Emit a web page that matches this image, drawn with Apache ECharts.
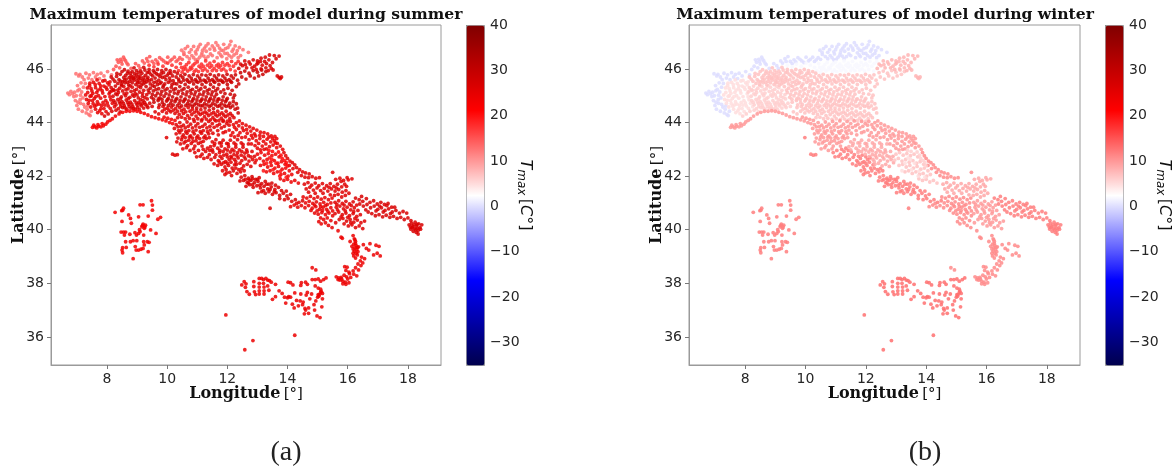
<!DOCTYPE html>
<html>
<head>
<meta charset="utf-8">
<title>Maximum temperatures of model</title>
<script src="https://cdn.jsdelivr.net/npm/echarts@6/dist/echarts.min.js"></script>
<style>
html, body { margin: 0; padding: 0; background: #fff; }
#chart { width: 1176px; height: 468px; }
</style>
</head>
<body>
<div id="chart"></div>
<script>
// tick labels
const lonTicks = [8, 10, 12, 14, 16, 18];
const latTicks = [36, 38, 40, 42, 44, 46];
const colorbarTicks = [-30, -20, -10, 0, 10, 20, 30, 40];
const seismic = ['#00004d', '#0000ff', '#ffffff', '#ff0000', '#800000'];

// stations, flat lon,lat pairs per climate zone
const westEdge = [6.70,45.10,6.75,45.04,6.80,45.16,6.86,45.07,6.92,45.13,6.98,45.00,7.03,45.19,6.90,44.97,7.08,45.24,7.00,44.64,7.05,44.50,7.12,44.72,7.18,44.42,7.26,44.58,7.11,44.86,7.31,44.36,7.40,44.30,7.48,44.42,7.20,44.92,7.34,44.50,6.97,45.82,7.10,45.80,7.18,45.70,7.30,45.84,7.42,45.78,7.55,45.86,7.68,45.80,7.80,45.84,7.24,45.60,7.38,45.66,7.50,45.60,7.62,45.70,7.75,45.64,7.90,45.74,8.02,45.90,8.15,45.78,7.06,45.74,7.14,45.48,7.02,45.38,7.22,45.32,7.28,45.46,7.16,45.14,7.12,45.02,6.95,44.82,7.04,44.76,7.22,44.68,7.36,44.62,7.44,44.26];
const alpsWest = [8.30,46.10,8.38,46.25,8.45,46.36,8.55,46.44,8.62,46.30,8.50,46.18,8.70,46.16,8.80,46.02,8.95,46.20,9.05,46.12,9.18,46.30,9.32,46.38,9.42,46.46,9.50,46.28,9.62,46.34,9.75,46.42,9.88,46.30,10.02,46.44,10.16,46.36,10.30,46.28,10.42,46.42,10.56,46.54,8.22,45.98,8.42,46.04,9.10,46.02,8.34,46.34,8.48,46.28,8.58,46.36,8.66,46.22,9.24,46.22,9.36,46.28,9.56,46.20,9.68,46.26,9.82,46.36,9.95,46.24,10.10,46.30,10.24,46.44,10.36,46.34,10.50,46.36];
const alpsEast = [10.48,46.70,10.60,46.76,10.74,46.62,10.88,46.84,11.00,46.72,11.10,46.92,11.24,46.78,11.36,46.94,11.50,46.86,11.62,46.98,11.74,46.78,11.88,46.92,12.02,46.80,12.12,47.03,12.26,46.86,12.40,46.80,12.52,46.72,12.70,46.62,11.16,46.60,11.30,46.66,11.44,46.56,11.58,46.70,11.72,46.60,11.86,46.68,12.00,46.58,12.16,46.66,12.30,46.58,10.66,46.46,10.82,46.50,10.96,46.56,11.08,46.44,11.22,46.48,12.44,46.50,10.94,46.34,11.66,46.42,11.82,46.46,11.98,46.38,12.14,46.44,10.55,46.62,10.68,46.84,10.80,46.72,10.94,46.64,11.04,46.82,11.18,46.70,11.29,46.86,11.42,46.74,11.56,46.78,11.68,46.88,11.80,46.70,11.94,46.76,12.08,46.90,12.20,46.74,12.33,46.68,11.36,46.46,11.50,46.50,11.78,46.52,11.92,46.58,12.06,46.50,12.22,46.52,12.36,46.42,10.74,46.38,10.88,46.42,11.02,46.36,11.14,46.52,11.28,46.38];
const preAlps = [9.40,46.14,9.56,46.08,9.70,46.18,9.86,46.10,10.02,46.22,10.16,46.14,10.30,46.06,10.44,46.20,10.58,46.08,10.72,46.24,10.86,46.14,11.00,46.26,11.14,46.18,11.28,46.30,11.42,46.22,11.56,46.28,11.70,46.18,11.84,46.24,12.00,46.20,12.14,46.28,12.28,46.20,10.38,45.94,10.54,45.98,10.68,45.92,10.82,46.02,10.96,45.96,11.12,46.04,11.26,46.00,11.42,46.06,11.56,46.02,11.72,46.06,11.88,46.00,10.48,46.06,10.64,46.16,10.78,46.06,10.92,46.20,11.06,46.10,11.20,46.10,11.34,46.14,11.48,46.12,11.64,46.12,11.78,46.12,11.92,46.14,12.06,46.12,12.20,46.10,12.36,46.28,10.50,45.88,10.62,46.00,10.76,45.98,10.90,45.90,11.04,45.90,11.18,45.94,11.34,45.92,11.50,45.94,11.64,45.94,11.80,45.96,11.96,45.92,12.10,45.98,12.26,45.92];
const piedmontFoot = [7.42,45.38,7.55,45.50,7.62,45.30,7.74,45.46,7.86,45.55,7.50,45.18,7.66,45.12,7.78,45.26,7.90,45.36,8.02,45.48,7.44,44.98,7.58,44.90,7.72,45.00,7.86,45.10,8.00,45.24,7.54,44.70,7.68,44.78,7.82,44.64,7.96,44.82,8.10,44.96,7.62,44.50,7.76,44.44,7.90,44.52,8.04,44.62,8.18,44.72,7.48,45.00,7.36,45.12,7.32,44.86,7.38,44.72,7.46,44.58,7.47,45.27,7.61,45.41,7.79,45.37,7.93,45.57,7.53,45.09,7.70,45.21,7.84,45.19,7.97,45.31,8.07,45.41,7.41,44.83,7.63,44.97,7.79,44.91,7.93,44.97,8.07,45.07,7.59,44.61,7.73,44.69,7.87,44.75,8.01,44.73,8.13,44.85,7.69,44.37,7.83,44.33,7.97,44.41,8.11,44.53,8.25,44.59,7.35,45.29,7.29,45.03,7.43,45.47,7.67,45.59,7.52,44.82,7.65,44.66,7.80,44.52,7.93,44.65,8.16,45.18,8.10,45.52];
const milanBelt = [8.20,45.62,8.32,45.72,8.44,45.80,8.56,45.68,8.68,45.84,8.80,45.74,8.92,45.82,9.04,45.70,9.16,45.84,9.28,45.76,9.40,45.88,9.52,45.74,9.64,45.82,9.76,45.72,9.88,45.86,10.00,45.76,10.12,45.84,8.26,45.54,8.40,45.60,8.52,45.52,8.64,45.62,8.76,45.54,8.88,45.64,9.00,45.56,9.12,45.64,9.24,45.58,9.36,45.68,9.48,45.60,9.60,45.66,9.72,45.58,9.84,45.68,9.96,45.60,10.08,45.66,10.20,45.56,8.36,45.46,8.48,45.42,8.60,45.48,8.72,45.40,8.84,45.48,8.96,45.42,9.08,45.50,9.20,45.44,9.32,45.52,9.44,45.44,9.56,45.50,9.68,45.42,9.80,45.50,9.92,45.44,10.04,45.50,10.16,45.42,8.62,45.76,8.74,45.68,8.86,45.70,8.98,45.78,9.10,45.74,9.22,45.68,9.34,45.62,8.70,45.92,8.84,45.90,8.98,45.94,9.12,45.92,9.26,45.96,9.40,45.98,9.54,45.94,9.68,45.98,9.82,45.94,9.96,45.98,10.10,45.94,10.24,45.90,8.90,45.58,8.94,45.68,9.06,45.62,9.18,45.56,8.33,45.83,8.50,45.90,8.58,45.97,8.78,45.84,8.90,46.04,9.04,45.86,9.22,46.06,9.34,45.86,9.46,45.80,9.58,45.88,9.70,45.78,9.80,45.82,9.92,45.70,10.05,45.84,10.18,45.74,10.30,45.70,10.34,45.84,8.14,45.70,8.45,45.54,8.58,45.58,8.68,45.50,8.80,45.62,9.02,45.48,9.14,45.40,9.26,45.48,9.40,45.56,9.52,45.38,9.64,45.52,9.76,45.46,9.88,45.38,10.10,45.56,10.24,45.46];
const poWest = [8.14,45.30,8.28,45.36,8.42,45.28,8.56,45.34,8.70,45.26,8.84,45.32,8.98,45.24,9.12,45.30,8.10,45.14,8.24,45.20,8.38,45.12,8.52,45.18,8.66,45.10,8.80,45.16,8.94,45.08,9.08,45.14,9.22,45.20,8.20,44.98,8.34,45.04,8.48,44.96,8.62,45.00,8.76,44.94,8.90,44.98,9.04,44.92,9.18,44.98,9.32,45.04,8.22,44.82,8.36,44.86,8.50,44.78,8.64,44.84,8.78,44.76,8.92,44.82,9.06,44.76,9.20,44.82,9.34,44.88,8.30,44.66,8.44,44.70,8.58,44.62,8.72,44.68,8.86,44.60,9.00,44.66,9.14,44.62,9.28,44.68,9.42,44.72,8.38,44.52,8.52,44.56,8.66,44.50,8.80,44.54,8.94,44.50,9.08,44.48,9.22,44.54,9.36,44.56,9.50,44.60,8.16,44.42,8.30,44.46,8.44,44.40,8.04,44.32,7.92,44.24,8.21,45.23,8.36,45.21,8.49,45.38,8.63,45.23,8.77,45.37,8.91,45.19,9.05,45.35,9.18,45.09,8.29,45.07,8.45,44.89,8.57,45.07,8.71,44.89,8.85,45.03,9.00,45.03,9.12,44.85,9.26,44.93,8.27,44.75,8.41,44.77,8.55,44.71,8.69,44.75,8.83,44.69,8.97,44.73,9.10,44.69,9.25,44.75,8.46,44.61,8.60,44.55,8.74,44.60,8.88,44.53,9.02,44.56,9.18,44.70,9.33,44.62];
const poCentre = [9.30,45.34,9.44,45.28,9.58,45.34,9.72,45.26,9.86,45.32,10.00,45.26,10.14,45.32,10.28,45.26,10.42,45.34,10.56,45.26,10.70,45.32,10.84,45.24,10.98,45.32,11.12,45.26,11.26,45.32,11.40,45.24,11.54,45.32,11.68,45.26,9.40,45.12,9.54,45.18,9.68,45.10,9.82,45.16,9.96,45.08,10.10,45.16,10.24,45.10,10.38,45.16,10.52,45.08,10.66,45.14,10.80,45.08,10.94,45.14,11.08,45.06,11.22,45.14,11.36,45.08,11.50,45.14,11.64,45.06,11.78,45.14,9.48,44.94,9.62,45.00,9.76,44.92,9.90,44.98,10.04,44.90,10.18,44.96,10.32,44.90,10.46,44.96,10.60,44.88,10.74,44.96,10.88,44.90,11.02,44.96,11.16,44.88,11.30,44.96,11.44,44.90,11.58,44.96,11.72,44.88,11.86,44.96,12.00,44.90,9.56,44.76,9.70,44.82,9.84,44.74,9.98,44.80,10.12,44.72,10.26,44.78,10.40,44.72,10.54,44.78,10.68,44.70,10.82,44.78,10.96,44.72,11.10,44.78,11.24,44.70,11.38,44.78,11.52,44.72,11.66,44.78,11.80,44.70,11.94,44.78,12.08,44.72,12.20,44.78,10.32,45.44,10.46,45.50,10.60,45.42,10.74,45.50,10.88,45.44,11.02,45.50,11.16,45.42,11.30,45.50,11.44,45.42,11.58,45.50,11.72,45.42,11.86,45.50,12.00,45.42,12.14,45.50,10.38,45.62,10.52,45.68,10.66,45.60,10.80,45.66,10.94,45.60,11.08,45.66,11.22,45.58,11.36,45.66,11.50,45.60,11.64,45.66,11.78,45.58,11.92,45.66,12.06,45.60,12.20,45.66,12.34,45.58,9.37,45.21,9.51,45.05,9.63,45.23,9.79,45.05,9.93,45.21,10.07,45.03,10.21,45.22,10.35,45.07,10.49,45.21,10.63,45.03,10.77,45.19,10.91,45.03,11.05,45.20,11.19,45.03,11.33,45.19,11.47,45.03,11.61,45.19,9.55,44.87,9.71,44.88,9.83,44.86,10.01,44.85,10.15,44.83,10.29,44.85,10.43,44.83,10.57,44.84,10.71,44.81,10.85,44.84,10.99,44.84,11.13,44.83,11.27,44.84,11.41,44.84,11.55,44.84,11.69,44.86,11.83,44.83,11.97,44.84,10.39,45.55,10.55,45.58,10.69,45.54,10.83,45.56,10.97,45.54,11.11,45.56,11.27,45.55,11.41,45.56,11.55,45.54,11.69,45.57,11.83,45.54,11.97,45.56,12.11,45.54,10.45,45.75,10.59,45.80,10.73,45.74,10.87,45.79,11.01,45.74,11.15,45.78,11.29,45.76,11.43,45.80,11.57,45.74,11.71,45.78,11.85,45.74,11.99,45.80,12.13,45.74,12.27,45.78];
const poEast = [11.88,45.22,12.02,45.28,12.16,45.20,12.30,45.34,12.10,45.06,12.24,45.02,12.38,45.44,11.92,45.08,12.20,44.92,12.30,44.70,12.26,44.50,12.36,44.36,12.10,44.56,11.96,44.60,11.82,44.54,11.68,44.60,11.54,44.52,11.40,44.60,11.26,44.54,11.12,44.62,10.98,44.54,10.84,44.60,12.48,45.70,12.62,45.62,12.76,45.74,12.90,45.66,13.04,45.74,13.18,45.80,12.44,45.86,12.58,45.92,12.72,45.84,12.86,45.94,13.00,45.88,13.14,45.96,13.28,45.90,9.74,44.66,9.90,44.67,10.04,44.64,10.20,44.65,10.34,44.63,10.48,44.62,10.62,44.64,10.76,44.66,10.90,44.66,11.04,44.66,11.18,44.63,11.32,44.66,11.46,44.64,11.60,44.66,11.74,44.63,11.90,44.65,12.04,44.63,12.18,44.62,12.34,44.54];
const friuli = [12.38,46.02,12.50,46.12,12.64,46.04,12.76,46.18,12.90,46.10,13.02,46.22,13.16,46.14,13.28,46.04,13.42,46.12,13.52,45.96,12.58,46.30,12.72,46.26,12.86,46.34,13.00,46.30,13.12,46.40,13.24,46.28,13.38,46.34,13.50,46.24,13.62,46.38,13.72,46.48,13.56,46.50,13.40,46.52,13.26,46.44,13.80,45.70,13.76,45.64,13.72,45.68,13.66,45.74,13.12,46.00,12.96,45.98,12.44,46.18,12.60,46.16,12.82,46.04,12.98,46.18,13.10,46.28,13.30,46.20,13.46,46.02,13.36,45.94];
const apennineNorth = [9.72,44.56,9.86,44.60,10.00,44.54,10.14,44.58,10.28,44.52,10.42,44.56,10.56,44.50,10.70,44.56,10.84,44.50,10.98,44.44,11.12,44.48,11.26,44.40,11.40,44.46,11.54,44.38,11.68,44.42,11.82,44.36,11.96,44.42,12.10,44.34,9.84,44.42,9.98,44.36,10.12,44.40,10.26,44.34,10.40,44.30,10.54,44.34,10.68,44.26,10.82,44.30,10.96,44.24,11.10,44.30,11.24,44.22,11.38,44.26,11.52,44.18,11.66,44.24,11.80,44.16,11.94,44.22,12.08,44.14,12.22,44.18,9.60,44.40,9.72,44.32,9.92,44.50,10.06,44.46,10.20,44.46,10.34,44.42,10.48,44.44,10.62,44.40,10.76,44.42,10.90,44.38,11.04,44.36,11.18,44.35,11.32,44.34,11.46,44.32,11.60,44.30,11.74,44.30,11.88,44.28,12.02,44.28,12.16,44.26,10.35,44.18,10.48,44.20,10.60,44.14,10.74,44.16,10.88,44.12,11.02,44.14,11.16,44.12,11.30,44.13,11.44,44.10,11.58,44.10,11.72,44.08,11.86,44.08,12.00,44.05];
const ligurianCoast = [7.52,43.82,7.60,43.84,7.66,43.80,7.72,43.86,7.80,43.84,7.88,43.88,7.96,43.94,8.02,44.02,8.10,44.08,8.18,44.14,8.28,44.24,8.40,44.32,8.52,44.38,8.64,44.42,8.76,44.42,8.88,44.44,9.00,44.42,9.12,44.38,9.24,44.34,9.36,44.28,9.48,44.22,9.60,44.18,9.72,44.14,9.84,44.10,9.96,44.06,10.08,44.00,10.18,43.96,9.90,44.20,10.02,44.16,10.14,44.12,10.26,44.08,7.56,43.90,7.70,43.92,7.84,43.96];
const tuscanyNorth = [10.30,43.92,10.42,44.00,10.54,43.90,10.66,44.02,10.78,43.94,10.90,44.04,11.02,43.96,11.14,44.06,11.26,43.94,11.38,44.04,11.50,43.96,11.62,44.06,11.74,43.94,11.86,44.04,11.98,43.96,12.10,44.04,10.24,43.78,10.36,43.84,10.48,43.72,10.60,43.80,10.72,43.70,10.84,43.80,10.96,43.72,11.08,43.82,11.20,43.70,11.32,43.80,11.44,43.72,11.56,43.82,11.68,43.70,11.80,43.80,10.30,43.58,10.42,43.62,10.54,43.54,10.66,43.60,10.78,43.50,10.90,43.58,11.02,43.50,11.14,43.60,11.26,43.50,11.38,43.58,10.36,43.42,10.48,43.36,10.60,43.44,10.72,43.34,10.84,43.42,10.96,43.32,11.08,43.40,11.20,43.30,10.44,43.20,10.56,43.24,10.68,43.14,10.80,43.22,10.92,43.12,11.04,43.22,11.16,43.12,10.52,43.02,10.64,43.06,10.76,42.96,10.88,43.02,10.46,43.85,10.70,43.86,10.95,43.87,11.18,43.86,11.42,43.86,11.66,43.88,11.90,43.86,12.06,43.90,10.38,43.70,10.62,43.66,10.86,43.66,11.10,43.66,11.34,43.66,11.52,43.60,11.70,43.54,11.86,43.62,10.50,43.46,10.74,43.46,10.98,43.44,11.22,43.44,11.40,43.44,10.32,43.28,10.62,43.30,10.86,43.30,11.12,43.26,11.30,43.40];
const tuscanySouth = [10.18,42.82,10.26,42.78,10.34,42.80,9.98,43.44,10.92,42.88,11.04,42.96,11.16,42.82,11.28,42.92,11.40,42.80,11.52,42.90,10.98,42.72,11.10,42.74,11.22,42.66,11.34,42.70,11.46,42.62,11.58,42.70,11.70,42.58,11.82,42.66,11.94,42.54,12.06,42.62,11.56,42.46,11.68,42.40,11.80,42.44,11.92,42.34,12.04,42.40,12.16,42.30,11.84,42.20,11.96,42.24,12.08,42.14,12.20,42.20,12.32,42.10,12.44,42.16,11.92,42.06,11.20,43.00,11.34,43.04,11.42,42.96,11.62,42.80,11.76,42.74,11.88,42.78,12.00,42.72,12.14,42.68,11.74,42.52,11.88,42.50,12.00,42.48,12.12,42.52,12.24,42.42,11.98,42.12,12.14,42.02,12.28,42.30,12.38,42.24,12.48,42.28,12.56,42.20];
const umbria = [11.50,43.28,11.62,43.36,11.74,43.24,11.86,43.34,11.98,43.22,12.10,43.34,12.22,43.24,12.34,43.36,12.46,43.24,11.44,43.10,11.56,43.14,11.68,43.04,11.80,43.12,11.92,43.02,12.04,43.10,12.16,43.00,12.28,43.08,12.40,42.98,12.52,43.08,12.64,42.98,11.74,42.88,11.86,42.92,11.98,42.82,12.10,42.90,12.22,42.80,12.34,42.88,12.46,42.78,12.58,42.86,12.70,42.76,12.24,42.62,12.36,42.68,12.48,42.58,12.60,42.64,12.72,42.56,12.84,42.62,12.30,42.44,12.42,42.48,12.54,42.38,12.66,42.44,12.78,42.36,11.58,43.22,11.80,43.24,12.03,43.20,12.28,43.18,12.52,43.18,12.70,43.20,11.50,42.98,11.75,42.96,12.00,42.97,12.22,42.94,12.48,42.92,12.66,42.90,12.82,42.92,12.90,42.74,12.12,42.74,12.32,42.76,12.56,42.72,12.78,42.72,12.28,42.54,12.92,42.50];
const marche = [11.94,43.66,12.06,43.72,12.18,43.62,12.30,43.74,12.42,43.62,12.54,43.70,12.66,43.60,12.78,43.68,12.90,43.58,12.40,44.06,12.50,43.96,12.62,43.90,12.74,43.84,12.86,43.78,12.98,43.72,13.10,43.64,13.22,43.62,13.34,43.58,13.46,43.50,13.58,43.48,13.64,43.40,12.12,43.52,12.24,43.46,12.36,43.52,12.48,43.44,12.60,43.46,12.72,43.36,12.84,43.42,12.96,43.32,13.08,43.40,13.20,43.30,13.32,43.38,13.44,43.28,13.56,43.32,13.66,43.22,12.80,43.20,12.92,43.14,13.04,43.22,13.16,43.12,13.28,43.20,13.40,43.10,13.52,43.16,13.64,43.06,13.76,43.12,13.84,43.00,13.10,42.98,13.22,43.00,12.24,43.82,12.38,43.88,12.50,43.80,12.64,43.74,12.80,43.52,12.94,43.50,13.08,43.52,13.20,43.48,13.38,43.46,13.50,43.40,12.20,43.92,12.30,44.00,13.00,43.04,13.30,43.02,13.60,43.24];
const apennineCentre = [13.00,42.82,13.12,42.88,13.24,42.78,13.36,42.84,13.48,42.76,13.60,42.82,13.72,42.72,12.96,42.60,13.08,42.66,13.20,42.56,13.32,42.62,13.44,42.52,13.56,42.58,13.68,42.48,13.80,42.54,13.92,42.44,13.10,42.40,13.22,42.44,13.34,42.34,13.46,42.40,13.58,42.30,13.70,42.36,13.82,42.26,13.94,42.30,14.06,42.20,13.30,42.16,13.42,42.20,13.54,42.10,13.66,42.16,13.78,42.06,13.90,42.10,14.02,42.00,14.14,42.06,13.76,41.90,13.88,41.84,14.00,41.88,14.12,41.78,14.24,41.84,14.36,41.74];
const adriaticAbruzzo = [13.88,42.88,13.94,42.76,14.00,42.66,14.08,42.56,14.16,42.50,14.24,42.42,14.30,42.32,14.06,42.40,14.18,42.28,14.40,42.24,14.50,42.16,14.60,42.12,14.72,42.08,14.34,42.14,14.46,42.02,14.58,41.96,14.70,41.94,14.82,41.98,14.94,41.92,15.06,41.94,15.50,42.14];
const lazio = [12.46,41.96,12.58,42.02,12.70,41.92,12.82,41.98,12.94,41.88,13.06,41.94,12.42,41.82,12.54,41.84,12.66,41.76,12.78,41.84,12.90,41.76,13.02,41.80,13.14,41.72,13.26,41.80,13.38,41.70,12.62,41.62,12.74,41.68,12.86,41.58,12.98,41.64,13.10,41.56,13.22,41.62,13.34,41.52,13.46,41.60,13.58,41.50,13.70,41.58,13.02,41.38,13.14,41.42,13.26,41.36,13.38,41.42,13.50,41.32,13.62,41.38,13.74,41.28,13.86,41.36,13.98,41.26,14.10,41.32,13.90,41.12,14.02,41.16,14.14,41.06,14.26,41.12,14.38,41.02,14.50,41.08,13.42,40.80,12.60,41.88,12.72,41.86,12.84,41.90,13.00,41.88,12.70,41.74,12.84,41.68,13.08,41.66,13.30,41.70,13.48,41.74,13.60,41.66,13.20,41.46,13.42,41.50,13.56,41.42,13.80,41.46,13.96,41.44,13.74,41.16];
const campania = [14.10,40.86,14.22,40.92,14.34,40.84,14.46,40.90,14.58,40.82,14.70,40.90,14.82,40.80,14.94,40.86,15.06,40.76,15.18,40.84,15.30,40.76,14.30,40.98,14.60,41.00,14.72,41.06,14.84,40.98,14.96,41.04,15.08,40.96,15.20,41.02,15.32,40.94,15.44,41.00,14.52,41.22,14.64,41.18,14.76,41.24,14.88,41.16,15.00,41.22,15.12,41.14,15.24,41.20,15.36,41.12,15.48,41.18,14.90,40.62,15.02,40.58,15.14,40.64,15.26,40.56,15.38,40.62,15.50,40.52,15.10,40.44,15.20,40.38,15.32,40.44,15.44,40.34,15.04,40.30,15.12,40.22,15.26,40.26,15.36,40.16,15.48,40.08,14.78,40.72,14.98,40.70,15.16,40.72,15.34,40.68,14.90,40.92,15.10,40.86,15.26,40.90,15.44,40.82,15.50,40.70];
const molise = [14.56,41.70,14.68,41.76,14.80,41.66,14.92,41.74,15.04,41.64,15.16,41.72,14.62,41.52,14.74,41.58,14.86,41.48,14.98,41.56,15.10,41.46,15.22,41.54,15.34,41.44,15.30,41.64,15.42,41.72,15.54,41.62,15.66,41.70,15.78,41.80,15.90,41.70,16.02,41.86,16.14,41.90,15.60,41.88,15.74,41.92,15.86,41.84,15.98,41.94,15.46,41.52,15.58,41.44,15.70,41.50,15.82,41.40,15.94,41.46,15.56,41.28,15.68,41.32,15.80,41.22,15.92,41.28,16.04,41.36,14.70,41.40,14.92,41.36,15.18,41.36,15.42,41.30,15.38,41.58,15.62,41.56,15.80,41.60,15.96,41.62];
const basilicata = [15.58,41.02,15.70,41.08,15.82,40.98,15.94,41.06,16.06,40.96,16.18,41.04,15.62,40.84,15.74,40.88,15.86,40.78,15.98,40.84,16.10,40.74,16.22,40.82,16.34,40.72,15.58,40.60,15.70,40.66,15.82,40.56,15.94,40.62,16.06,40.52,16.18,40.60,16.30,40.50,16.42,40.56,15.72,40.38,15.84,40.42,15.96,40.32,16.08,40.38,16.20,40.28,16.32,40.36,16.44,40.26,16.56,40.32,16.02,40.14,16.14,40.18,16.26,40.08,16.38,40.14,16.50,40.04,15.64,40.94,15.88,40.92,16.12,40.90,16.30,40.92,15.66,40.74,15.92,40.70,16.20,40.68,15.78,40.48,16.00,40.46,16.24,40.42,15.60,40.26,15.88,40.22,16.10,40.26];
const puglia = [16.26,41.18,16.38,41.12,16.50,41.06,16.62,41.16,16.74,41.02,16.86,41.08,16.98,40.96,17.10,41.02,17.22,40.94,17.34,40.98,17.46,40.84,16.40,40.96,16.52,40.88,16.64,40.94,16.76,40.82,16.88,40.88,17.00,40.76,17.12,40.82,17.24,40.72,17.36,40.78,17.48,40.66,17.60,40.72,17.72,40.62,17.84,40.68,17.96,40.62,16.68,40.66,16.80,40.60,16.92,40.52,17.04,40.56,17.16,40.48,17.28,40.54,17.40,40.46,17.52,40.50,17.64,40.42,17.76,40.46,17.88,40.38,18.00,40.44,18.10,40.34,18.12,40.24,18.24,40.28,18.36,40.22,18.46,40.18,18.04,40.18,18.16,40.12,18.28,40.14,18.40,40.08,18.10,40.02,18.22,40.04,18.34,39.98,18.42,40.02,18.18,39.94,18.28,39.90,18.34,39.84,18.14,40.08,18.26,40.00,18.32,40.06,18.20,40.18,18.08,40.10,18.30,40.20,16.46,41.24,16.60,40.74,17.18,40.66,17.30,40.90,17.42,40.60,17.56,40.84,17.06,40.88,16.94,40.70];
const calabria = [15.68,39.96,15.78,39.72,15.82,39.68,16.08,39.56,16.18,39.78,16.22,39.66,16.26,39.56,16.20,39.46,16.28,39.40,16.24,39.32,16.30,39.26,16.22,39.20,16.28,39.12,16.34,39.18,16.20,39.02,16.26,38.94,16.14,39.38,16.36,39.36,16.52,39.44,16.62,39.30,16.70,39.24,16.74,39.48,16.94,39.42,17.04,39.38,16.86,39.06,16.98,39.12,17.08,39.02,16.46,38.98,16.56,38.92,16.42,38.84,16.50,38.76,16.34,38.72,16.44,38.66,16.26,38.58,16.36,38.50,16.18,38.46,16.06,38.36,16.20,38.34,16.30,38.28,15.90,38.62,15.98,38.60,15.94,38.48,16.04,38.42,15.88,38.30,16.10,38.22,16.00,38.16,15.92,38.04,15.84,38.08,15.78,38.22,15.70,38.20,15.62,38.24,15.74,38.12,15.68,38.14,15.80,38.16,15.84,37.98,15.94,37.96,14.82,38.58,14.94,38.50,16.18,39.28,16.26,39.48,16.32,39.34,16.18,39.12,16.32,39.06,16.24,39.62,15.96,38.24,16.04,38.02];
const sardinia = [8.27,40.65,8.52,40.73,8.55,40.80,8.49,40.71,9.10,40.93,9.20,40.93,9.48,41.08,9.51,40.92,9.51,40.73,9.78,40.46,9.69,40.39,8.72,40.55,8.78,40.42,8.50,40.31,8.81,40.24,9.05,40.48,9.37,40.51,9.63,39.86,9.45,39.99,9.28,40.17,9.20,40.21,9.24,40.05,9.16,40.11,9.10,39.93,9.05,39.86,8.93,39.89,8.76,39.83,8.47,39.91,8.55,39.91,8.62,39.91,8.58,39.80,8.62,39.55,8.78,39.55,8.87,39.59,8.99,39.59,9.22,39.80,9.22,39.55,9.34,39.55,9.40,39.53,9.24,39.43,8.52,39.33,8.50,39.24,8.52,39.14,8.64,39.34,8.94,39.37,8.97,39.24,9.05,39.24,9.13,39.27,9.20,39.30,8.87,38.92,9.37,39.18,9.18,40.16,9.26,40.10,9.08,40.00,8.98,39.80];
const sicily = [12.48,37.94,12.56,38.06,12.60,37.85,12.65,37.69,12.73,37.59,12.62,37.98,12.88,38.06,12.88,37.88,12.90,37.68,12.94,37.58,13.06,38.18,13.14,38.18,13.20,38.14,13.28,38.18,13.34,38.12,13.40,38.10,13.46,38.04,13.60,37.96,13.06,38.00,13.06,37.86,13.06,37.72,13.06,37.60,13.20,38.00,13.22,37.86,13.22,37.72,13.22,37.60,13.34,37.90,13.38,37.74,13.50,37.40,13.60,37.50,13.72,37.72,13.82,37.62,13.90,37.48,13.94,37.26,14.00,37.46,14.04,37.50,14.10,37.48,14.16,37.22,14.24,37.64,14.02,38.04,14.10,38.02,14.18,37.94,14.44,37.92,14.46,38.02,14.60,38.04,14.66,37.96,14.82,38.14,14.92,38.14,15.02,38.16,15.10,38.08,15.20,38.14,15.28,38.20,14.92,37.90,15.02,37.82,15.10,37.78,14.44,37.60,14.42,37.34,14.36,37.16,14.50,37.20,14.52,37.30,14.58,37.06,14.60,37.00,14.70,37.08,14.70,36.88,14.56,36.86,14.88,37.20,14.94,37.34,15.00,37.48,15.06,37.58,15.10,37.66,15.12,37.70,15.16,37.42,15.08,36.72,14.98,36.78,15.14,37.12,14.90,37.00,14.74,37.42,14.62,37.56,14.30,37.36,14.22,37.08,14.66,37.66,14.80,37.60,15.02,37.58,15.04,37.52,15.16,37.62,11.95,36.82,14.24,36.06,12.58,35.52,12.85,35.86];
const abruzzoInland = [13.20,42.20,13.62,42.48,13.48,42.62,13.74,42.00,13.40,42.68,13.30,42.48,13.52,42.24,13.76,42.18,13.96,41.96];
const easternMarcheHills = [13.50,42.92,13.38,42.96,13.70,42.90,13.78,42.78,13.82,42.66,13.90,42.58,13.96,42.50,14.00,42.38];

// zone, summer Tmax, winter Tmax
const zones = [
  [westEdge, 13, 0], [alpsWest, 15, 0], [alpsEast, 13, 0], [preAlps, 18, 2],
  [piedmontFoot, 25, 5], [apennineNorth, 26, 7], [poWest, 27, 6], [milanBelt, 28, 7],
  [poCentre, 29, 7], [poEast, 29, 7], [friuli, 27, 8], [ligurianCoast, 23, 10],
  [tuscanyNorth, 26, 10], [tuscanySouth, 26, 12], [umbria, 26, 9], [marche, 25, 10],
  [apennineCentre, 24, 7], [adriaticAbruzzo, 26, 11], [lazio, 27, 12], [campania, 25, 11],
  [molise, 26, 9], [basilicata, 26, 10], [puglia, 27, 12], [calabria, 24, 11],
  [sardinia, 23, 12], [sicily, 24, 13], [abruzzoInland, 20, 5], [easternMarcheHills, 21, 6]
];

const summer = [];
const winter = [];
zones.forEach(function (z) {
  for (let i = 0; i < z[0].length; i += 2) {
    summer.push([z[0][i], z[0][i + 1], z[1]]);
    winter.push([z[0][i], z[0][i + 1], z[2]]);
  }
});

const axisGray = '#9a9a9a';
const textColor = '#262626';

function mapAxes(xName, yName, gridIndex) {
  const common = {
    gridIndex: gridIndex,
    type: 'value',
    splitLine: { show: false },
    axisLine: { onZero: false, lineStyle: { color: axisGray, width: 1 } },
    axisTick: { length: 4, lineStyle: { color: '#777' } },
    nameLocation: 'middle',
    nameMoveOverlap: false,
    nameTextStyle: {
      color: '#111',
      rich: {
        b: { fontFamily: 'DejaVu Serif', fontWeight: 'bold', fontSize: 16, color: '#111' },
        n: { fontFamily: 'DejaVu Serif', fontSize: 15, color: '#111' }
      }
    }
  };
  return {
    x: Object.assign({}, common, {
      min: 6.14, max: 19.1,
      name: xName, nameGap: 21,
      axisTick: Object.assign({}, common.axisTick, { customValues: lonTicks }),
      axisLabel: { customValues: lonTicks, color: textColor, fontFamily: 'DejaVu Sans', fontSize: 14, margin: 7 }
    }),
    y: Object.assign({}, common, {
      min: 34.95, max: 47.64,
      name: yName, nameGap: 24,
      axisTick: Object.assign({}, common.axisTick, { customValues: latTicks }),
      axisLabel: { customValues: latTicks, color: textColor, fontFamily: 'DejaVu Sans', fontSize: 14, margin: 7 }
    })
  };
}

function barAxes(gridIndex) {
  return {
    x: { gridIndex: gridIndex, type: 'value', min: 0, max: 1, show: false },
    y: {
      gridIndex: gridIndex, type: 'value', position: 'right', min: -35, max: 40,
      splitLine: { show: false },
      axisLine: { show: false },
      axisTick: { customValues: colorbarTicks, length: 4, lineStyle: { color: '#777' } },
      axisLabel: {
        customValues: colorbarTicks, color: textColor, fontFamily: 'DejaVu Sans', fontSize: 14, margin: 6,
        formatter: function (v) { return String(v).replace('-', '\u2212'); }
      },
      name: '{t|T}{s|max} {u|[}{t|C}{u|°]}',
      nameLocation: 'middle', nameRotate: -90, nameGap: 31, nameMoveOverlap: false,
      nameTextStyle: {
        rich: {
          t: { fontFamily: 'DejaVu Sans', fontStyle: 'italic', fontSize: 16, color: '#111' },
          s: { fontFamily: 'DejaVu Sans', fontStyle: 'italic', fontSize: 12, color: '#111', padding: [8, 0, 0, 0] },
          u: { fontFamily: 'DejaVu Sans', fontSize: 16, color: '#111' }
        }
      }
    }
  };
}

function colorbar(seriesIndex, left) {
  return {
    type: 'continuous', seriesIndex: seriesIndex, dimension: 2,
    min: -35, max: 40, left: left, top: 25, padding: 0,
    itemWidth: 18, itemHeight: 340,
    calculable: false, hoverLink: false, realtime: false, text: null, showLabel: false,
    borderColor: '#999', borderWidth: 1,
    inRange: { color: seismic }
  };
}

function panelTitle(text, x) {
  return {
    text: text, left: x, top: 7, textAlign: 'center', padding: 0,
    textStyle: { fontFamily: 'DejaVu Serif', fontWeight: 'bold', fontSize: 15.6, color: '#111' }
  };
}

function caption(text, x) {
  return {
    text: text, left: x, top: 439, textAlign: 'center', padding: 0,
    textStyle: { fontFamily: 'Liberation Serif', fontWeight: 'normal', fontSize: 28, color: '#222' }
  };
}

const latName = '{b|Latitude} {n|[°]}';
const lonName = '{b|Longitude} {n|[°]}';
const leftMap = mapAxes(lonName, latName, 0);
const leftBar = barAxes(1);
const rightMap = mapAxes(lonName, latName, 2);
const rightBar = barAxes(3);

const myEcharts = echarts.init(document.getElementById('chart'), null, { renderer: 'canvas' });
myEcharts.setOption({
  animation: false,
  backgroundColor: '#fff',
  title: [
    panelTitle('Maximum temperatures of model during summer', 246),
    panelTitle('Maximum temperatures of model during winter', 885),
    caption('(a)', 286),
    caption('(b)', 925)
  ],
  grid: [
    { left: 51, top: 25, width: 390, height: 340, show: true, borderColor: axisGray, borderWidth: 1, backgroundColor: 'transparent' },
    { left: 466, top: 25, width: 18, height: 340 },
    { left: 689, top: 25, width: 391, height: 340, show: true, borderColor: axisGray, borderWidth: 1, backgroundColor: 'transparent' },
    { left: 1105, top: 25, width: 18, height: 340 }
  ],
  xAxis: [leftMap.x, leftBar.x, rightMap.x, rightBar.x],
  yAxis: [leftMap.y, leftBar.y, rightMap.y, rightBar.y],
  visualMap: [colorbar(0, 466), colorbar(1, 1105)],
  series: [
    { type: 'scatter', xAxisIndex: 0, yAxisIndex: 0, data: summer, symbolSize: 3.8, silent: true, itemStyle: { opacity: 0.85 } },
    { type: 'scatter', xAxisIndex: 2, yAxisIndex: 2, data: winter, symbolSize: 3.8, silent: true, itemStyle: { opacity: 0.85 } }
  ]
});
</script>
</body>
</html>
